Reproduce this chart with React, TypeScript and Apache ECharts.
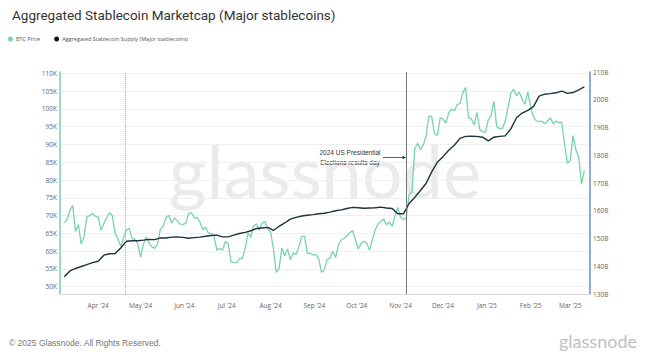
import React, { useEffect, useRef } from "react";
import * as echarts from "echarts";

const chartTitle = "Aggregated Stablecoin Marketcap (Major stablecoins)";
const btcName = "BTC Price";
const stableName = "Aggregated Stablecoin Supply (Major stablecoins)";

// BTC price (thousand USD), one value every 2 days from 2024-03-08
const btcStart = [2024, 2, 8];
const btcStepDays = 2;
const btcPriceK = [
  68.0, 68.9, 71.5, 72.8, 65.5, 67.5, 62.0, 64.0, 69.7, 70.0, 70.6, 69.8,
  69.7, 65.9, 67.8, 69.4, 70.8, 70.0, 65.0, 63.4, 61.3, 63.8, 66.0, 66.4,
  63.5, 63.4, 62.0, 58.3, 62.0, 64.0, 62.3, 61.2, 60.8, 62.0, 66.2, 67.0,
  69.5, 70.1, 67.9, 69.3, 68.5, 67.6, 67.5, 67.8, 70.6, 70.8, 69.3, 69.5,
  68.2, 66.0, 66.7, 65.1, 64.9, 64.3, 60.3, 60.8, 60.3, 62.7, 62.1, 57.0,
  56.8, 56.7, 57.9, 57.9, 60.8, 65.1, 63.9, 67.1, 67.6, 65.9, 67.9, 68.3,
  66.2, 65.4, 60.7, 54.0, 55.1, 60.9, 58.7, 60.6, 57.6, 59.5, 59.0, 61.2,
  64.1, 64.2, 59.4, 59.4, 58.9, 59.1, 58.0, 54.0, 54.8, 57.6, 58.1, 60.0,
  58.2, 61.8, 63.2, 63.6, 64.3, 65.2, 65.8, 63.3, 60.6, 62.1, 62.8, 62.2,
  60.3, 63.2, 66.0, 67.6, 68.4, 69.0, 67.4, 68.2, 67.0, 69.9, 72.3, 69.5,
  68.8, 69.4, 75.9, 76.6, 88.7, 90.4, 88.5, 89.8, 92.3, 98.0, 97.8, 93.0,
  92.5, 97.5, 97.2, 96.0, 98.8, 99.9, 99.5, 101.2, 101.5, 104.5, 106.1, 97.5,
  97.2, 95.5, 99.0, 94.2, 93.6, 93.4, 96.9, 98.1, 102.1, 95.0, 94.5, 94.5,
  96.5, 100.5, 104.4, 105.5, 103.7, 104.7, 102.6, 101.3, 104.7, 100.6, 97.7, 96.6,
  96.5, 96.5, 95.8, 96.6, 97.5, 95.8, 96.6, 96.1, 96.3, 90.0, 84.7, 85.5,
  92.5, 88.5, 86.5, 78.8, 82.8,
];

// Stablecoin supply (billion USD), one value every 4 days from 2024-03-08
const stableStart = [2024, 2, 8];
const stableStepDays = 4;
const stableSupplyB = [
  136.2, 138.3, 139.2, 139.9, 140.6, 141.3, 141.8, 144.0, 144.5, 144.6,
  146.6, 149.0, 149.2, 149.2, 149.4, 149.7, 149.6, 150.2, 150.2, 150.5,
  150.6, 150.4, 150.1, 150.3, 150.5, 150.8, 151.1, 151.2, 150.6, 150.6,
  151.2, 151.8, 152.2, 152.8, 153.6, 153.8, 154.0, 152.9, 154.4, 155.6,
  157.0, 157.6, 158.1, 158.4, 158.6, 158.9, 159.1, 159.5, 160.0, 160.3,
  160.8, 161.2, 161.1, 160.9, 161.0, 161.1, 161.3, 161.0, 160.8, 158.9,
  158.9, 162.6, 164.8, 167.3, 169.8, 174.0, 177.5, 179.5, 181.8, 183.6,
  186.1, 186.8, 186.9, 186.8, 186.5, 185.2, 186.5, 186.8, 187.0, 189.5,
  193.5, 195.2, 196.2, 197.5, 201.3, 202.0, 202.2, 202.5, 203.1, 202.3,
  202.6, 203.6, 204.6,
];

const leftTicksK = [50, 55, 60, 65, 70, 75, 80, 85, 90, 95, 100, 105, 110];
const monthTicks = [
  [2024, 3], [2024, 4], [2024, 5], [2024, 6], [2024, 7], [2024, 8],
  [2024, 9], [2024, 10], [2024, 11], [2025, 0], [2025, 1], [2025, 2],
];
const monthNames = ["Jan", "Feb", "Mar", "Apr", "May", "Jun", "Jul", "Aug", "Sep", "Oct", "Nov", "Dec"];
const halvingDate = [2024, 3, 20];
const electionDate = [2024, 10, 5];
const electionNote = ["2024 US Presidential", "Elections results day"];
const xRange = [[2024, 2, 5], [2025, 2, 15]];

const DAY = 86400000;
const utc = (d: number[]) => Date.UTC(d[0], d[1], d[2] ?? 1);

const GREEN = "#77d3ab";
const NAVY = "#1c3340";
const BLUE = "#6f8fcc";

export default function App() {
  const ref = useRef<HTMLDivElement>(null);
  useEffect(() => {
    if (!ref.current) return;
    const chart = echarts.init(ref.current, null, { renderer: "svg" });
    const btcData = btcPriceK.map((v, i) => [utc(btcStart) + i * btcStepDays * DAY, v]);
    const stableData = stableSupplyB.map((v, i) => [utc(stableStart) + i * stableStepDays * DAY, v]);
    const font = "Open Sans";
    chart.setOption({
      animation: false,
      textStyle: { fontFamily: font },
      title: {
        text: chartTitle,
        left: 7,
        top: 3,
        textStyle: { fontSize: 13.5, fontWeight: "normal", color: "#333", fontFamily: "Roboto" },
      },
      legend: {
        left: 8,
        top: 36,
        itemWidth: 5,
        itemHeight: 5,
        itemGap: 14,
        icon: "circle",
        padding: 0,
        textStyle: { fontSize: 5.5, color: "#555", padding: [0, 0, 0, -2] },
        data: [
          { name: btcName, itemStyle: { color: GREEN } },
          { name: stableName, itemStyle: { color: "#111" } },
        ],
      },
      grid: { left: 60, right: 60, top: 72, bottom: 61 },
      xAxis: {
        type: "value",
        min: utc(xRange[0]),
        max: utc(xRange[1]),
        axisLine: { lineStyle: { color: "#d8d8d8" } },
        axisTick: { show: false },
        splitLine: { show: false },
        axisLabel: {
          customValues: monthTicks.map((m) => Date.UTC(m[0], m[1], 1)),
          formatter: (v: number) => {
            const d = new Date(v);
            return monthNames[d.getUTCMonth()] + " '" + String(d.getUTCFullYear()).slice(2);
          },
          fontSize: 6.5,
          color: "#666",
          margin: 8,
        },
      },
      yAxis: [
        {
          type: "value",
          min: 47.95,
          max: 110.37,
          position: "left",
          axisLine: { show: true, lineStyle: { color: GREEN, width: 1.5 } },
          axisTick: { show: false, customValues: leftTicksK },
          axisLabel: {
            customValues: leftTicksK,
            formatter: (v: number) => v + "K",
            fontSize: 6.5,
            color: "#666",
            margin: 3,
          },
          splitLine: { show: true, lineStyle: { color: "#f0f0f0" } },
        },
        {
          type: "value",
          min: 130,
          max: 210,
          interval: 10,
          position: "right",
          axisLine: { show: true, lineStyle: { color: BLUE, width: 1.5 } },
          axisTick: { show: false },
          axisLabel: { formatter: (v: number) => v + "B", fontSize: 6.5, color: "#666", margin: 3 },
          splitLine: { show: false },
        },
      ],
      graphic: [
        {
          type: "text",
          left: "center",
          top: 134,
          z: -1,
          style: { text: "glassnode", fontSize: 72, fontWeight: "normal", fill: "#ebebeb", fontFamily: "Lato" },
        },
        {
          type: "text",
          x: 9,
          y: 338,
          style: { text: "© 2025 Glassnode. All Rights Reserved.", fontSize: 8.5, fill: "#777", fontFamily: "Liberation Sans" },
        },
        {
          type: "text",
          x: 559,
          y: 332,
          style: { text: "glassnode", fontSize: 18, fill: "#c0c0c0", fontFamily: "Lato" },
        },
        {
          type: "text",
          x: 350,
          y: 152.5,
          style: { text: electionNote[0], fontSize: 6.5, fill: "#333", align: "center", verticalAlign: "middle" },
        },
        {
          type: "text",
          x: 350,
          y: 162.5,
          style: { text: electionNote[1], fontSize: 6.5, fill: "#333", align: "center", verticalAlign: "middle" },
        },
        {
          type: "line",
          shape: { x1: 383, y1: 157.5, x2: 404, y2: 157.5 },
          style: { stroke: "#333", lineWidth: 0.8 },
        },
        {
          type: "polygon",
          shape: { points: [[406, 157.5], [402.5, 155.8], [402.5, 159.2]] },
          style: { fill: "#333" },
        },
      ],
      series: [
        {
          name: btcName,
          type: "line",
          yAxisIndex: 0,
          data: btcData,
          showSymbol: false,
          lineStyle: { color: GREEN, width: 1.3 },
          itemStyle: { color: GREEN },
          z: 2,
          markLine: {
            silent: true,
            symbol: "none",
            label: { show: false },
            data: [
              { xAxis: utc(halvingDate), lineStyle: { color: "#aaa", type: "dotted", width: 1 } },
              { xAxis: utc(electionDate), lineStyle: { color: "#777", type: "solid", width: 1 } },
            ],
          },
        },
        {
          name: stableName,
          type: "line",
          yAxisIndex: 1,
          data: stableData,
          showSymbol: false,
          lineStyle: { color: NAVY, width: 1.4 },
          itemStyle: { color: "#111" },
          z: 3,
        },
      ],
    });
    return () => chart.dispose();
  }, []);
  return <div ref={ref} style={{ width: 650, height: 355, position: "absolute", left: 0, top: 0 }} />;
}
